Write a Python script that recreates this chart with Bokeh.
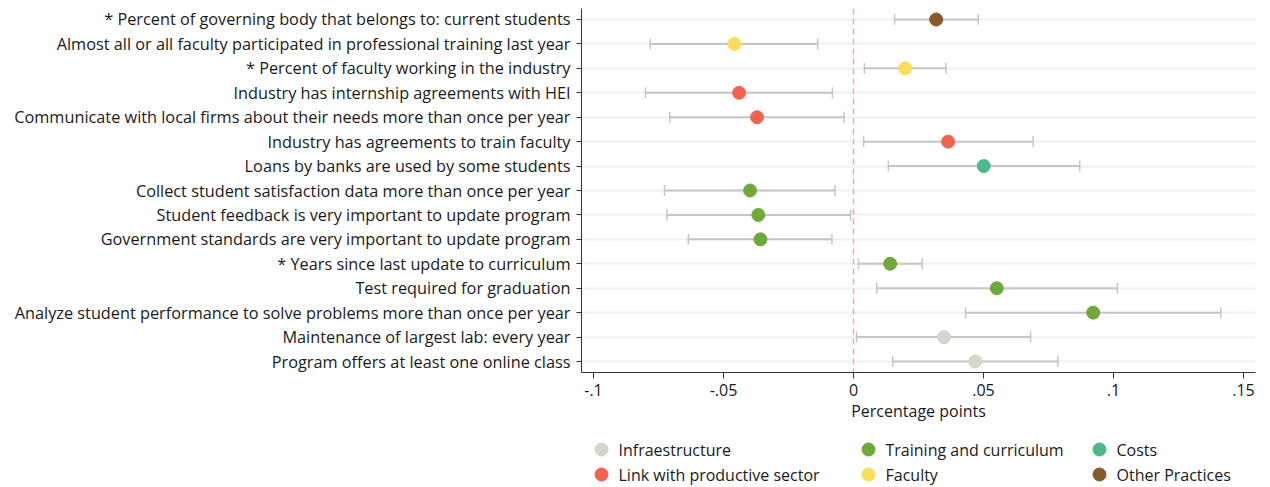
from bokeh.plotting import figure
from bokeh.layouts import column
from bokeh.models import (ColumnDataSource, FixedTicker, Span, Whisker, TeeHead, Range1d)
from bokeh.core.properties import value
from bokeh.embed import file_html
from bokeh.resources import INLINE

labels = [
    "* Percent of governing body that belongs to: current students",
    "Almost all or all faculty participated in professional training last year",
    "* Percent of faculty working in the industry",
    "Industry has internship agreements with HEI",
    "Communicate with local firms about their needs more than once per year",
    "Industry has agreements to train faculty",
    "Loans by banks are used by some students",
    "Collect student satisfaction data more than once per year",
    "Student feedback is very important to update program",
    "Government standards are very important to update program",
    "* Years since last update to curriculum",
    "Test required for graduation",
    "Analyze student performance to solve problems more than once per year",
    "Maintenance of largest lab: every year",
    "Program offers at least one online class",
]
coef = [0.0318, -0.0458, 0.0199, -0.0440, -0.0371, 0.0364, 0.0501, -0.0398, -0.0366,
        -0.0358, 0.0141, 0.0551, 0.0922, 0.0348, 0.0468]
lo = [0.0158, -0.0782, 0.0042, -0.0800, -0.0707, 0.0039, 0.0134, -0.0727, -0.0718,
      -0.0635, 0.0019, 0.0089, 0.0431, 0.0012, 0.0151]
hi = [0.0480, -0.0138, 0.0356, -0.0081, -0.0036, 0.0691, 0.0870, -0.0071, -0.0011,
      -0.0083, 0.0264, 0.1015, 0.1413, 0.0681, 0.0786]
group = ["Other Practices", "Faculty", "Faculty", "Link with productive sector",
         "Link with productive sector", "Link with productive sector", "Costs",
         "Training and curriculum", "Training and curriculum", "Training and curriculum",
         "Training and curriculum", "Training and curriculum", "Training and curriculum",
         "Infraestructure", "Infraestructure"]
legend_columns = [["Infraestructure", "Link with productive sector"],
                  ["Training and curriculum", "Faculty"],
                  ["Costs", "Other Practices"]]
group_colors = {
    "Infraestructure": "#d5d5c9",
    "Training and curriculum": "#71a83b",
    "Costs": "#4cb98a",
    "Link with productive sector": "#ef6450",
    "Faculty": "#fbdd5c",
    "Other Practices": "#875a2c",
}
xticks = [-0.1, -0.05, 0, 0.05, 0.1, 0.15]
xtick_labels = ["-.1", "-.05", "0", ".05", ".1", ".15"]
x_title = "Percentage points"

FONT = "Open Sans"
TXT = "#1a1a1a"
FS = "16px"
W = 1270
FL, FW = 581, 674          # frame left / width in page pixels
TOP, FH, BOT = 8, 364, 60  # top border, frame height, bottom border

ypos = list(range(1, len(labels) + 1))

p = figure(frame_width=FW, frame_height=FH, output_backend="svg", toolbar_location=None,
           x_range=Range1d(-0.10462, 0.15462), y_range=Range1d(15.45, 0.55))
p.min_border_left = FL
p.min_border_right = W - FL - FW
p.min_border_top = TOP
p.min_border_bottom = BOT
p.outline_line_color = None
p.background_fill_color = "white"
p.border_fill_color = "white"

# grid
p.xgrid.visible = False
p.ygrid.ticker = FixedTicker(ticks=ypos)
p.ygrid.grid_line_color = "#ebf2f4"
p.ygrid.grid_line_width = 2

# y axis
p.yaxis.ticker = FixedTicker(ticks=ypos)
p.yaxis.major_label_overrides = {y: l for y, l in zip(ypos, labels)}
p.yaxis.major_label_text_font = FONT
p.yaxis.major_label_text_font_size = "16.3px"
p.yaxis.major_label_text_color = TXT
p.yaxis.major_tick_out = 5
p.yaxis.major_tick_in = 0
p.yaxis.major_label_standoff = 6
p.yaxis.minor_tick_line_color = None
p.yaxis.axis_line_color = "#333333"
p.yaxis.major_tick_line_color = "#333333"

# x axis
p.xaxis.ticker = FixedTicker(ticks=xticks)
p.xaxis.major_label_overrides = {t: l for t, l in zip(xticks, xtick_labels)}
p.xaxis.major_label_text_font = FONT
p.xaxis.major_label_text_font_size = FS
p.xaxis.major_label_text_color = TXT
p.xaxis.major_tick_out = 6
p.xaxis.major_tick_in = 0
p.xaxis.minor_tick_line_color = None
p.xaxis.axis_line_color = "#333333"
p.xaxis.major_tick_line_color = "#333333"
p.xaxis.axis_label = x_title
p.xaxis.axis_label_text_font = FONT
p.xaxis.axis_label_text_font_size = FS
p.xaxis.axis_label_text_font_style = "normal"
p.xaxis.axis_label_text_color = TXT
p.xaxis.axis_label_standoff = 1
p.xaxis.major_label_standoff = 5

zero = Span(location=0, dimension="height", line_color="#f5a6b5", line_width=1.5,
            line_dash="6 4", level="underlay")
p.add_layout(zero)

src = ColumnDataSource(dict(y=ypos, coef=coef, lo=lo, hi=hi, group=group))
wcol = "#c6c6c6"
w = Whisker(source=src, base="y", lower="lo", upper="hi", dimension="width",
            line_color=wcol, line_width=2,
            upper_head=TeeHead(size=11, line_color=wcol, line_width=1.5),
            lower_head=TeeHead(size=11, line_color=wcol, line_width=1.5))
p.add_layout(w)

for g in group_colors:
    idx = [i for i, gg in enumerate(group) if gg == g]
    s = ColumnDataSource(dict(x=[coef[i] for i in idx], y=[ypos[i] for i in idx]))
    p.scatter("x", "y", source=s, size=13, fill_color=group_colors[g],
              line_color=group_colors[g])

# ---- legend panel: a pixel-coordinate figure below the chart, frame aligned ----
Y0 = TOP + FH + BOT
LH = 487 - Y0
lg = figure(frame_width=FW, frame_height=LH, output_backend="svg", toolbar_location=None,
            x_range=Range1d(FL, FL + FW), y_range=Range1d(Y0 + LH, Y0),
            outline_line_color=None)
lg.min_border_left = FL
lg.min_border_right = W - FL - FW
lg.min_border_top = 0
lg.min_border_bottom = 0
lg.axis.visible = False
lg.grid.visible = False
lg.border_fill_color = "white"

col_x = [601, 868, 1099]
row_y = [449, 474]
mx, my, mc, tx, tt = [], [], [], [], []
for cx, col in zip(col_x, legend_columns):
    for ry, g in zip(row_y, col):
        mx.append(cx)
        my.append(ry)
        mc.append(group_colors[g])
        tx.append(cx + 17)
        tt.append(g)
lsrc = ColumnDataSource(dict(mx=mx, my=my, mc=mc, tx=tx, tt=tt))
lg.scatter("mx", "my", source=lsrc, size=13, fill_color="mc", line_color="mc")
lg.text("tx", "my", text="tt", source=lsrc, text_font=value(FONT), text_font_size=value(FS),
        text_color=TXT, text_baseline="middle", text_align="left")

open("out.html", "w").write(file_html(column(p, lg, spacing=0), INLINE))
